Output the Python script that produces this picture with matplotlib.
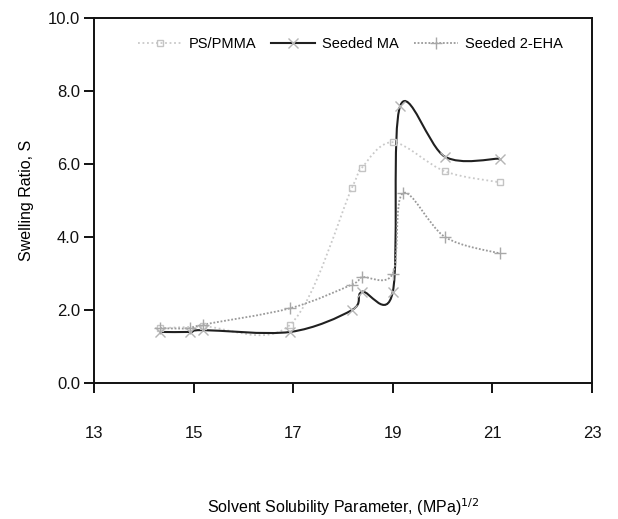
import matplotlib
matplotlib.use("Agg")
import matplotlib.pyplot as plt
from matplotlib.path import Path
from matplotlib.patches import PathPatch
from matplotlib.lines import Line2D
import numpy as np

plt.rcParams['font.family'] = ['Liberation Sans', 'DejaVu Sans']

# Data
ps_x = [14.33, 15.19, 16.94, 18.18, 18.38, 19.0, 20.05, 21.15]
ps_y = [1.5, 1.55, 1.6, 5.35, 5.9, 6.6, 5.8, 5.5]

ma_x = [14.33, 14.93, 15.19, 16.94, 18.18, 18.38, 19.0, 19.15, 20.05, 21.15]
ma_y = [1.4, 1.4, 1.45, 1.4, 2.0, 2.5, 2.5, 7.6, 6.2, 6.15]

eha_x = [14.33, 14.93, 15.19, 16.94, 18.18, 18.38, 19.0, 19.2, 20.05, 21.15]
eha_y = [1.5, 1.5, 1.6, 2.05, 2.7, 2.9, 3.0, 5.2, 4.0, 3.55]

labels = ['PS/PMMA', 'Seeded MA', 'Seeded 2-EHA']
x_ticks = [13, 15, 17, 19, 21, 23]
y_ticks = [0, 2, 4, 6, 8, 10]


def smooth_path(xs, ys):
    """Catmull-Rom style Bezier through the data points (chart smoothing)."""
    P = np.column_stack([xs, ys]).astype(float)
    n = len(P)
    verts = [tuple(P[0])]
    codes = [Path.MOVETO]
    for i in range(n - 1):
        p0 = P[i - 1] if i > 0 else P[i]
        p1 = P[i]
        p2 = P[i + 1]
        p3 = P[i + 2] if i + 2 < n else P[i + 1]
        c1 = p1 + (p2 - p0) / 6.0
        c2 = p2 - (p3 - p1) / 6.0
        verts += [tuple(c1), tuple(c2), tuple(p2)]
        codes += [Path.CURVE4] * 3
    return Path(verts, codes)


fig = plt.figure(figsize=(6.18, 5.19), dpi=100)
ax = fig.add_axes([0.152, 0.262, 0.806, 0.703])

styles = [
    dict(color='#c9c9c9', ls=(0, (1, 1.5)), lw=1.3, marker='s', mc='#c4c4c4', ms=5, mfc='none'),
    dict(color='#202020', ls='-', lw=1.5, marker='x', mc='#b5b5b5', ms=7, mfc='none'),
    dict(color='#9a9a9a', ls=(0, (1, 1)), lw=1.3, marker='+', mc='#a8a8a8', ms=9, mfc='none'),
]

series = [(ps_x, ps_y), (ma_x, ma_y), (eha_x, eha_y)]
handles = []
for (xs, ys), st, lab in zip(series, styles, labels):
    patch = PathPatch(smooth_path(xs, ys), facecolor='none', edgecolor=st['color'],
                      lw=st['lw'], linestyle=st['ls'], zorder=2)
    ax.add_patch(patch)
    ax.plot(xs, ys, linestyle='none', marker=st['marker'], markersize=st['ms'],
            markeredgecolor=st['mc'], markerfacecolor=st['mfc'], markeredgewidth=1.0, zorder=3)
    handles.append(Line2D([], [], color=st['color'], lw=st['lw'], linestyle=st['ls'],
                          marker=st['marker'], markersize=st['ms'],
                          markeredgecolor=st['mc'], markerfacecolor=st['mfc']))

ax.set_xlim(13, 23)
ax.set_ylim(0, 10)
ax.set_xticks(x_ticks)
ax.set_xticklabels([str(t) for t in x_ticks])
ax.set_yticks(y_ticks)
ax.set_yticklabels([f"{t:.1f}" for t in y_ticks])

for sp in ax.spines.values():
    sp.set_linewidth(1.4)
    sp.set_color('#111111')

ax.tick_params(axis='x', direction='out', length=7, width=1.4, pad=24, labelsize=12, colors='#111111')
ax.tick_params(axis='y', direction='out', length=7, width=1.4, pad=3, labelsize=12, colors='#111111')

ax.set_ylabel('Swelling Ratio, S', fontsize=11.5, labelpad=10)
ax.set_xlabel(r'Solvent Solubility Parameter, (MPa)$^{1/2}$', fontsize=11.5, labelpad=40)

leg = ax.legend(handles, labels, loc='upper center', bbox_to_anchor=(0.515, 0.985), ncol=3,
                frameon=False, fontsize=10.5, handlelength=3.0, columnspacing=1.0,
                handletextpad=0.5)

fig.savefig('out.png', dpi=100)
